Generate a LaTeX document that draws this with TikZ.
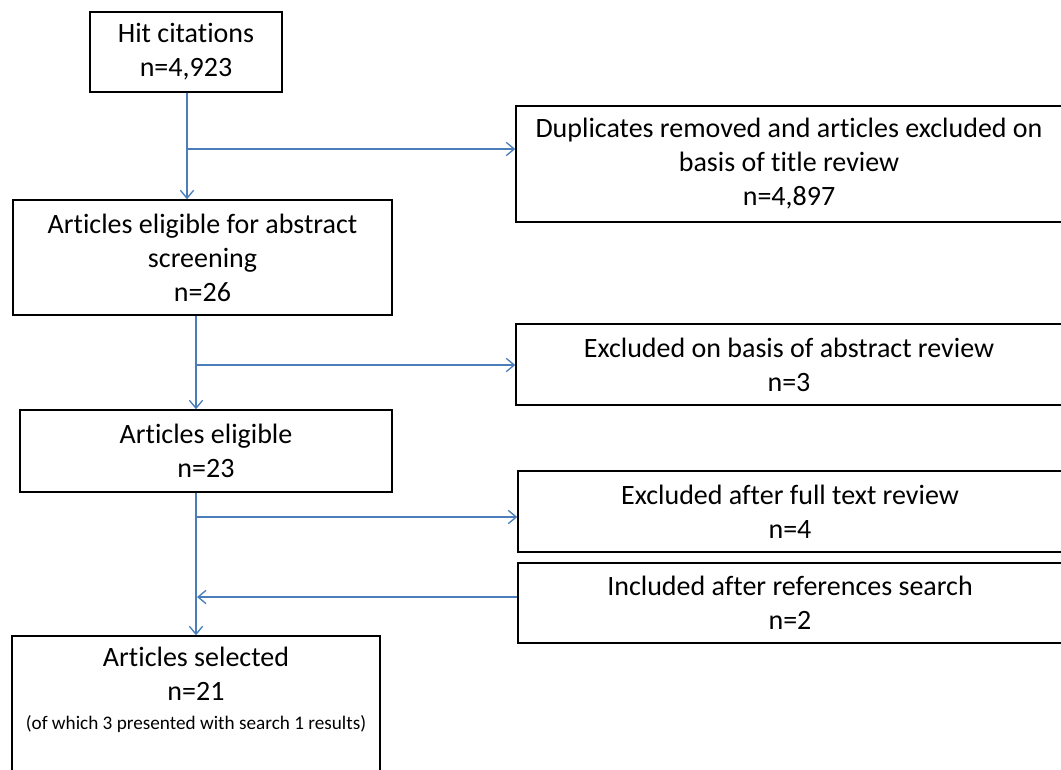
\documentclass[tikz,border=0pt]{standalone}
\usepackage{fontspec}
\setmainfont{Carlito}[RawFeature=-liga]
\usetikzlibrary{arrows.meta}
\definecolor{linkblue}{HTML}{4A7EBB}
\tikzset{
  box/.style={draw=black, line width=1.1pt, rectangle, inner sep=0pt, align=center,
    font=\fontsize{21}{25.5}\selectfont},
  conn/.style={draw=linkblue, line width=1.1pt, -{Straight Barb[length=6pt,width=10pt,line width=1pt]}},
}
\begin{document}
\begin{tikzpicture}[x=0.75pt,y=-0.75pt]
\useasboundingbox (0,0) rectangle (1061,769);
\begin{scope}
\clip (0,0) rectangle (1061,769);
% left column
\node[box, minimum width={192*0.75pt}, minimum height={80*0.75pt}] (hit) at (186,52) {Hit citations\\n=4,923};
\node[box, minimum width={379*0.75pt}, minimum height={115*0.75pt}] (elig) at (202.5,257.5) {Articles eligible for abstract\\screening\\n=26};
\node[box, minimum width={372*0.75pt}, minimum height={82*0.75pt}] (elig2) at (206,451) {Articles eligible\\n=23};
\node[box, minimum width={368*0.75pt}, minimum height={170*0.75pt}] (sel) at (196,721) {};
\node[align=center, inner sep=0pt, font=\fontsize{21}{25.5}\selectfont] (seltext) at (196,690)
  {Articles selected\\n=21\\[-4pt]{\fontsize{14.4}{17}\selectfont (of which 3 presented with search 1 results)}};
% right column
\node[box, minimum width={546*0.75pt}, minimum height={116*0.75pt}] (dup) at (789,164) {Duplicates removed and articles excluded on\\basis of title review\\n=4,897};
\node[box, minimum width={546*0.75pt}, minimum height={81*0.75pt}] (exab) at (789,364.5) {Excluded on basis of abstract review\\n=3};
\node[box, minimum width={544*0.75pt}, minimum height={81*0.75pt}] (exft) at (790,511.5) {Excluded after full text review\\n=4};
\node[box, minimum width={544*0.75pt}, minimum height={80*0.75pt}] (incl) at (790,603) {Included after references search\\n=2};
\end{scope}
% junction coordinates
\coordinate (j1) at (187,149);
\coordinate (j2) at (196,365);
\coordinate (j3) at (196,517);
\coordinate (j4) at (197,597);
% connectors
\draw[conn] (hit.south -| j1) -- (j1 |- elig.north);
\draw[conn] (j1) -- (j1 -| dup.west);
\draw[conn] (elig.south -| j2) -- (j2 |- elig2.north);
\draw[conn] (j2) -- (j2 -| exab.west);
\draw[conn] (elig2.south -| j3) -- (j3 |- sel.north);
\draw[conn] (j3) -- (j3 -| exft.west);
\draw[conn] (j4 -| incl.west) -- (j4);
\end{tikzpicture}
\end{document}
